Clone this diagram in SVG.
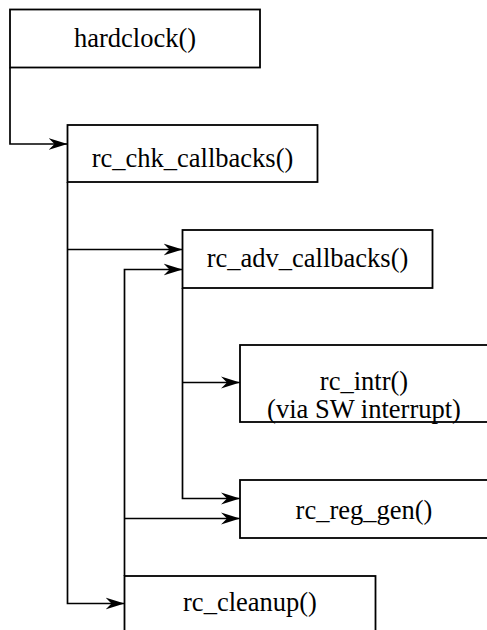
<svg xmlns="http://www.w3.org/2000/svg" width="487" height="630" viewBox="0 0 487 630">
  <style>
    .box { fill: #ffffff; stroke: #000000; stroke-width: 1.8; }
    .lbl { font-family: "Liberation Serif", "Times New Roman", serif; font-size: 26.5px; fill: #000000; text-anchor: middle; }
    .wire { fill: none; stroke: #000000; stroke-width: 1.7; }
  </style>
  <defs>
    <marker id="arrow" viewBox="-19 -7 19 14" markerWidth="19" markerHeight="14" refX="0" refY="0" orient="auto" markerUnits="userSpaceOnUse">
      <path d="M0,0 L-19,-6 L-13,0 L-19,6 Z" fill="#000000"/>
    </marker>
  </defs>
  <rect width="487" height="630" fill="#ffffff"/>

  <g id="connectors">
    <path class="wire" d="M10,67.5 V144 H67.5" marker-end="url(#arrow)"/>
    <path class="wire" d="M67.5,182 V603.5 H124.5" marker-end="url(#arrow)"/>
    <path class="wire" d="M67.5,249.5 H182.5" marker-end="url(#arrow)"/>
    <path class="wire" d="M124.5,576 V269.5 H182.5" marker-end="url(#arrow)"/>
    <path class="wire" d="M124.5,518.5 H240" marker-end="url(#arrow)"/>
    <path class="wire" d="M182.5,288 V498.5 H240" marker-end="url(#arrow)"/>
    <path class="wire" d="M182.5,382.5 H240" marker-end="url(#arrow)"/>
  </g>

  <g id="hardclock">
    <rect class="box" x="10" y="9.5" width="250" height="58"/>
    <text class="lbl" x="135" y="46.5">hardclock()</text>
  </g>
  <g id="rc_chk_callbacks">
    <rect class="box" x="67.5" y="125" width="250" height="57"/>
    <text class="lbl" x="192.5" y="167">rc_chk_callbacks()</text>
  </g>
  <g id="rc_adv_callbacks">
    <rect class="box" x="182.5" y="230" width="250" height="58"/>
    <text class="lbl" x="307.5" y="266.5">rc_adv_callbacks()</text>
  </g>
  <g id="rc_intr">
    <rect class="box" x="240" y="345" width="250" height="77"/>
    <text class="lbl" x="364" y="390">rc_intr()</text>
    <text class="lbl" x="364" y="418">(via SW interrupt)</text>
  </g>
  <g id="rc_reg_gen">
    <rect class="box" x="240" y="480" width="250" height="58"/>
    <text class="lbl" x="364" y="519">rc_reg_gen()</text>
  </g>
  <g id="rc_cleanup">
    <rect class="box" x="124.5" y="576" width="251" height="60"/>
    <text class="lbl" x="250" y="610.5">rc_cleanup()</text>
  </g>
</svg>
